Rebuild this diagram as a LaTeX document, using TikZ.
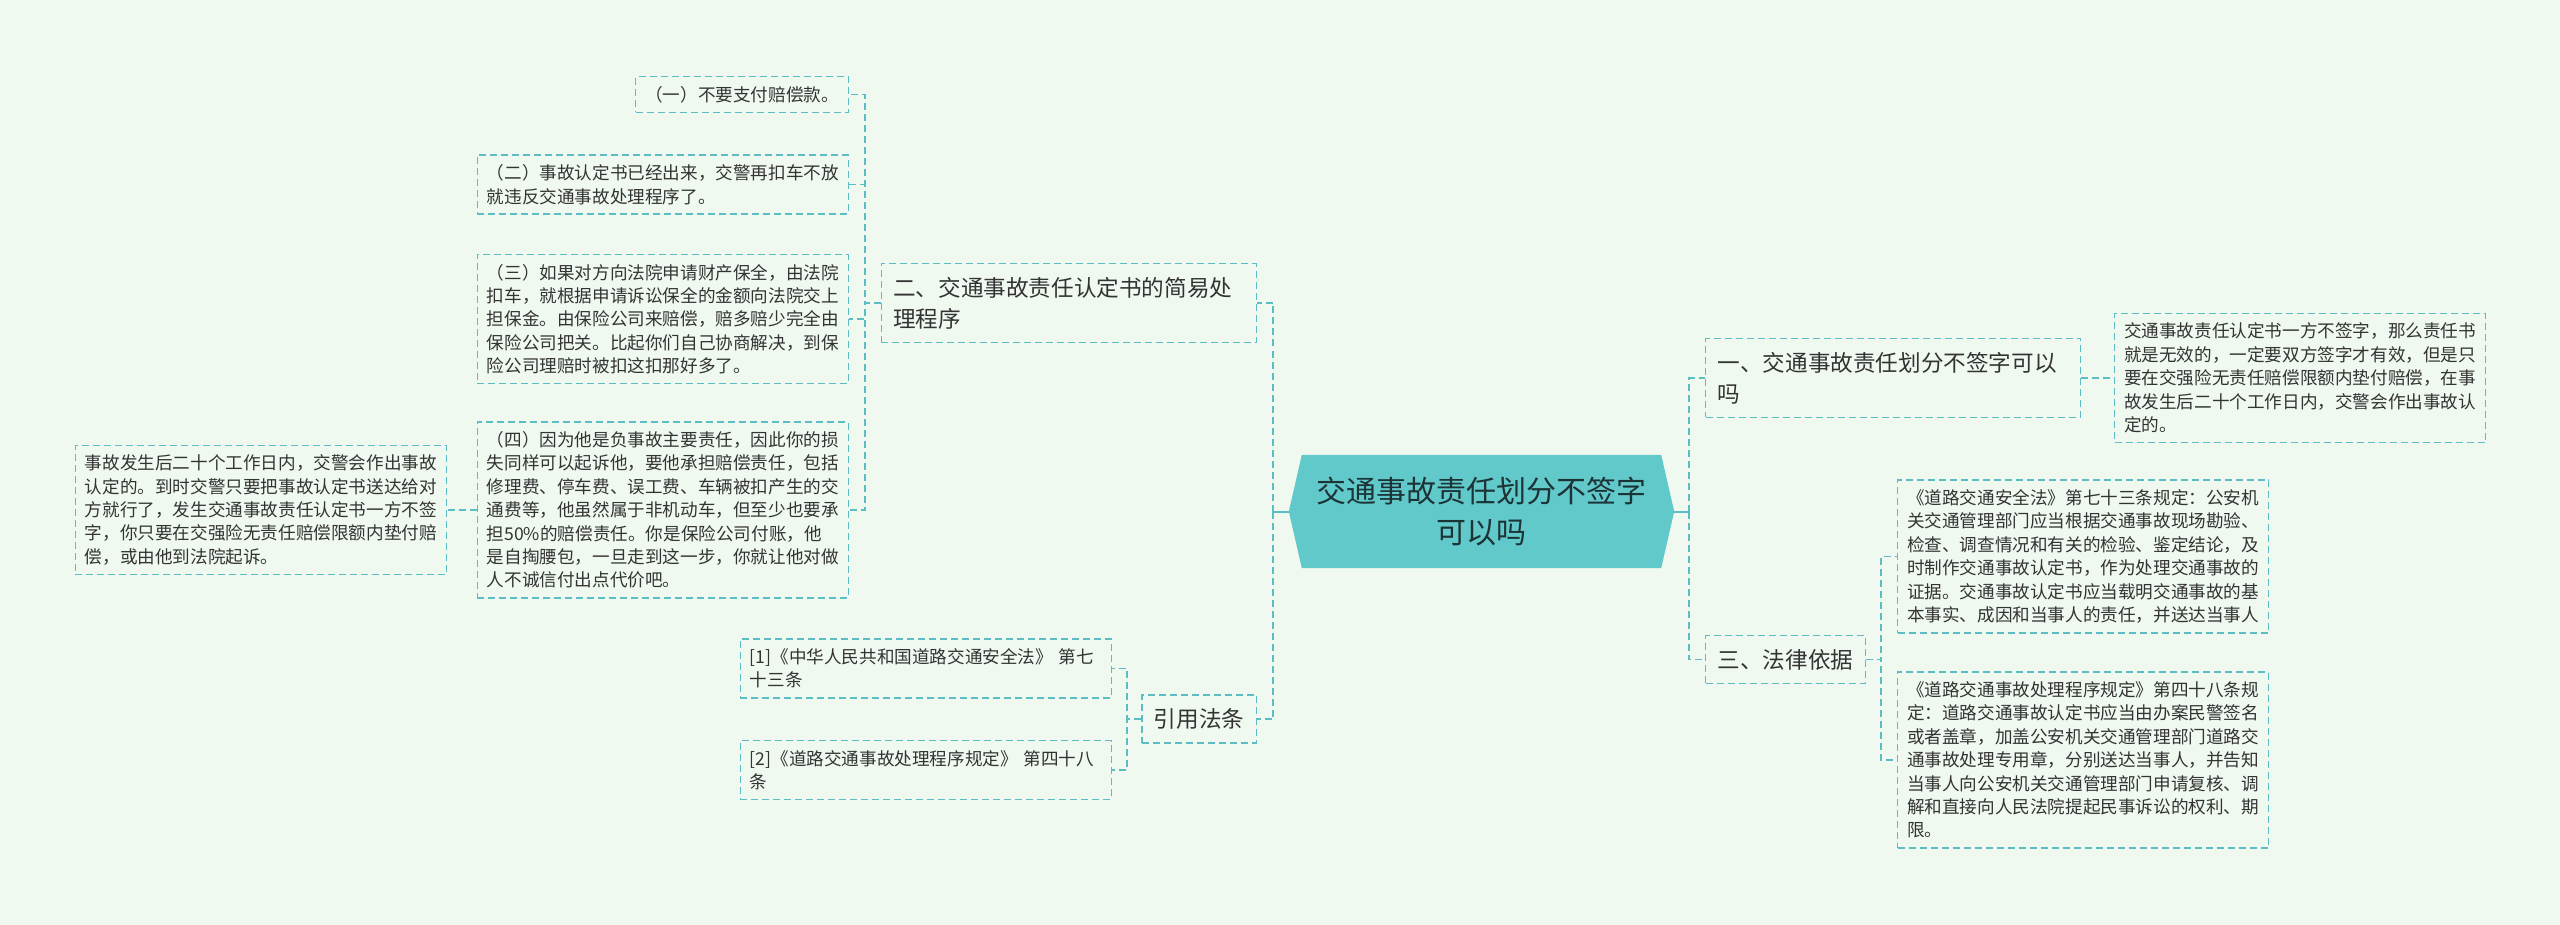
\documentclass[tikz,border=0pt]{standalone}
\usepackage{fontspec}
\setmainfont{Noto Sans CJK SC}
\usetikzlibrary{positioning, backgrounds}
\definecolor{canvas}{RGB}{240, 249, 240}
\definecolor{linkteal}{RGB}{92, 190, 196}
\definecolor{hubfill}{RGB}{98, 201, 203}
\definecolor{hubtext}{RGB}{28, 52, 54}
\definecolor{inkgray}{RGB}{51, 51, 51}

\tikzset{
    leaf/.style={draw=linkteal, dash pattern=on 7pt off 4pt, line width=1.3pt,
                 text=inkgray, font=\fontsize{17.6}{23.4}\selectfont,
                 inner xsep=9.5pt, inner ysep=9.5pt, align=left},
    wideleaf/.style={leaf, text width=352pt},
    topic/.style={leaf, font=\fontsize{22.6}{31}\selectfont,
                  inner xsep=12pt, inner ysep=13.5pt},
    link/.style={draw=linkteal, line width=1.8pt, dash pattern=on 7pt off 4pt},
    stem/.style={draw=linkteal, line width=2pt}
}

\begin{document}
\begin{tikzpicture}[x=1pt, y=-1pt]
    \useasboundingbox (0,0) rectangle (2560,925);
    \begin{scope}[on background layer]
        \fill[canvas] (0,0) rectangle (2560,925);
    \end{scope}

    % centre
    \node[font=\fontsize{30}{41}\selectfont, text=hubtext, align=center,
          minimum width=385pt, minimum height=113pt, inner sep=0pt] (hub) at (1481.5,511.5)
        {交通事故责任划分不签字\\可以吗};
    \begin{scope}[on background layer]
        \fill[hubfill] ([xshift=13pt]hub.north west) -- ([xshift=-13pt]hub.north east)
            -- (hub.east) -- ([xshift=-13pt]hub.south east)
            -- ([xshift=13pt]hub.south west) -- (hub.west) -- cycle;
    \end{scope}

    % left side
    \node[topic, text width=351pt, anchor=east] (procedure) at (1257,303)
        {二、交通事故责任认定书的简易处\\理程序};
    \node[topic, anchor=east] (cite) at (1257,719) {引用法条};

    \node[leaf, anchor=east] (step1) at (849,94.5) {（一）不要支付赔偿款。};
    \node[wideleaf, anchor=east] (step2) at (849,184.5)
        {（二）事故认定书已经出来，交警再扣车不放\\就违反交通事故处理程序了。};
    \node[wideleaf, anchor=east] (step3) at (849,319)
        {（三）如果对方向法院申请财产保全，由法院\\扣车，就根据申请诉讼保全的金额向法院交上\\担保金。由保险公司来赔偿，赔多赔少完全由\\保险公司把关。比起你们自己协商解决，到保\\险公司理赔时被扣这扣那好多了。};
    \node[wideleaf, anchor=east] (step4) at (849,510)
        {（四）因为他是负事故主要责任，因此你的损\\失同样可以起诉他，要他承担赔偿责任，包括\\修理费、停车费、误工费、车辆被扣产生的交\\通费等，他虽然属于非机动车，但至少也要承\\担50\%的赔偿责任。你是保险公司付账，他\\是自掏腰包，一旦走到这一步，你就让他对做\\人不诚信付出点代价吧。};
    \node[wideleaf, anchor=east] (deadline) at (447,510)
        {事故发生后二十个工作日内，交警会作出事故\\认定的。到时交警只要把事故认定书送达给对\\方就行了，发生交通事故责任认定书一方不签\\字，你只要在交强险无责任赔偿限额内垫付赔\\偿，或由他到法院起诉。};

    \node[wideleaf, anchor=east] (ref1) at (1112,668.5)
        {[1]《中华人民共和国道路交通安全法》 第七\\十三条};
    \node[wideleaf, anchor=east] (ref2) at (1112,770)
        {[2]《道路交通事故处理程序规定》 第四十八\\条};

    % right side
    \node[topic, text width=351pt, anchor=west] (unsigned) at (1705,378)
        {一、交通事故责任划分不签字可以\\吗};
    \node[wideleaf, anchor=west] (invalid) at (2114,378)
        {交通事故责任认定书一方不签字，那么责任书\\就是无效的，一定要双方签字才有效，但是只\\要在交强险无责任赔偿限额内垫付赔偿，在事\\故发生后二十个工作日内，交警会作出事故认\\定的。};
    \node[topic, anchor=west] (basis) at (1705,659.5) {三、法律依据};
    \node[wideleaf, anchor=west] (law73) at (1897,556.5)
        {《道路交通安全法》第七十三条规定：公安机\\关交通管理部门应当根据交通事故现场勘验、\\检查、调查情况和有关的检验、鉴定结论，及\\时制作交通事故认定书，作为处理交通事故的\\证据。交通事故认定书应当载明交通事故的基\\本事实、成因和当事人的责任，并送达当事人};
    \node[wideleaf, anchor=west] (law48) at (1897,760)
        {《道路交通事故处理程序规定》第四十八条规\\定：道路交通事故认定书应当由办案民警签名\\或者盖章，加盖公安机关交通管理部门道路交\\通事故处理专用章，分别送达当事人，并告知\\当事人向公安机关交通管理部门申请复核、调\\解和直接向人民法院提起民事诉讼的权利、期\\限。};

    % connectors
    \coordinate (hubL) at (1273,511.5);
    \coordinate (hubR) at (1689,511.5);
    \coordinate (procL) at (865,303);
    \coordinate (citeL) at (1127,719);
    \coordinate (basisR) at (1881,659.5);

    \draw[stem] (hub.west) -- (hubL);
    \draw[stem] (hub.east) -- (hubR);
    \draw[link] (hubL) |- (procedure.east);
    \draw[link] (hubL) |- (cite.east);
    \draw[link] (hubR) |- (unsigned.west);
    \draw[link] (hubR) |- (basis.west);

    \draw[link] (procedure.west) -- (procL) |- (step1.east);
    \draw[link] (procedure.west) -- (procL) |- (step2.east);
    \draw[link] (procedure.west) -- (procL) |- (step3.east);
    \draw[link] (procedure.west) -- (procL) |- (step4.east);
    \draw[link] (step4.west) -- (deadline.east);

    \draw[link] (cite.west) -- (citeL) |- (ref1.east);
    \draw[link] (cite.west) -- (citeL) |- (ref2.east);

    \draw[link] (unsigned.east) -- (invalid.west);
    \draw[link] (basis.east) -- (basisR) |- (law73.west);
    \draw[link] (basis.east) -- (basisR) |- (law48.west);
\end{tikzpicture}
\end{document}
